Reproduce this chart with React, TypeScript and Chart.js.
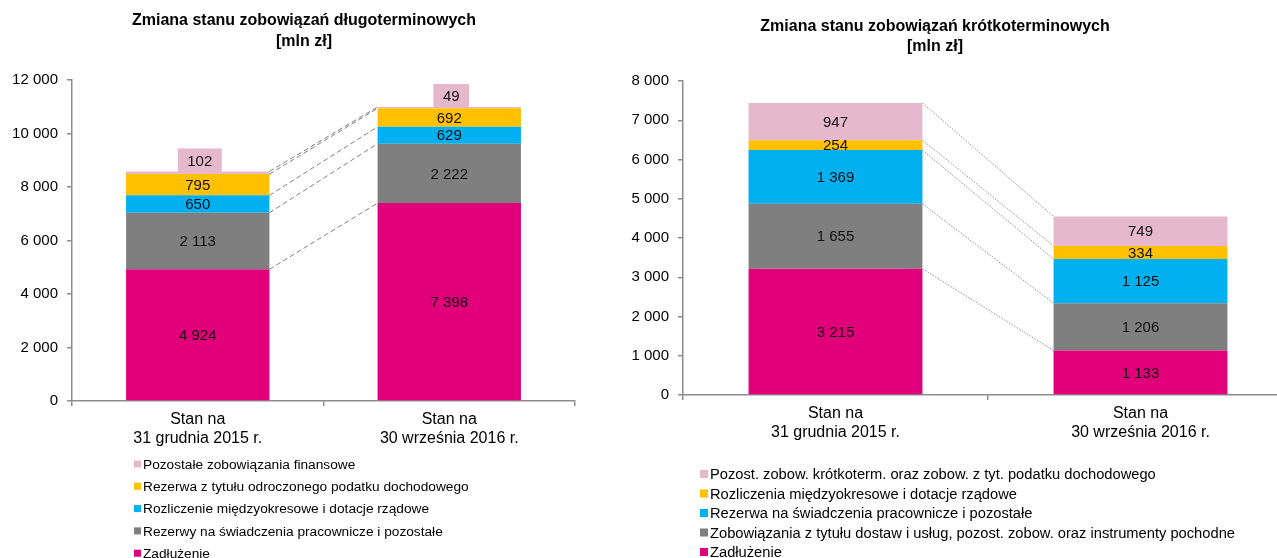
import React, { useEffect, useRef } from "react";
import { Chart, registerables } from "chart.js";

Chart.register(...registerables);

// ---------- data ----------
const categories = [
  ["Stan na", "31 grudnia 2015 r."],
  ["Stan na", "30 września 2016 r."],
];

const longTitle = ["Zmiana stanu zobowiązań długoterminowych", "[mln zł]"];
const longSeriesNames = [
  "Zadłużenie",
  "Rezerwy na świadczenia pracownicze i pozostałe",
  "Rozliczenie międzyokresowe i dotacje rządowe",
  "Rezerwa z tytułu odroczonego podatku dochodowego",
  "Pozostałe zobowiązania finansowe",
];
const longDebt = [4924, 7398];
const longEmployee = [2113, 2222];
const longAccruals = [650, 629];
const longDeferredTax = [795, 692];
const longOtherFinancial = [102, 49];
const longAxisMax = 12000;
const longAxisStep = 2000;

const shortTitle = ["Zmiana stanu zobowiązań krótkoterminowych", "[mln zł]"];
const shortSeriesNames = [
  "Zadłużenie",
  "Zobowiązania z tytułu dostaw i usług, pozost. zobow. oraz instrumenty pochodne",
  "Rezerwa na świadczenia pracownicze i pozostałe",
  "Rozliczenia międzyokresowe i dotacje rządowe",
  "Pozost. zobow. krótkoterm. oraz zobow. z tyt. podatku dochodowego",
];
const shortDebt = [3215, 1133];
const shortTrade = [1655, 1206];
const shortEmployee = [1369, 1125];
const shortAccruals = [254, 334];
const shortOther = [947, 749];
const shortAxisMax = 8000;
const shortAxisStep = 1000;

const seriesColors = ["#E2007A", "#7F7F7F", "#00B0F0", "#FFC000", "#E6B8CB"];

// ---------- helpers ----------
const FONT = "'Liberation Sans', Arial, sans-serif";
const fmt = (v: number) => String(Math.round(v)).replace(/\B(?=(\d{3})+(?!\d))/g, " ");

const decoPlugin = {
  id: "deco",
  afterDatasetsDraw(chart: any, _args: any, opts: any) {
    const ctx = chart.ctx;
    const n = chart.data.datasets.length;
    // connector lines
    ctx.save();
    ctx.strokeStyle = opts.lineColor;
    ctx.lineWidth = opts.lineWidth;
    ctx.setLineDash(opts.dash);
    for (let i = 0; i < n; i++) {
      const meta = chart.getDatasetMeta(i);
      const a = meta.data[0].getProps(["x", "y", "width"], true);
      const b = meta.data[1].getProps(["x", "y", "width"], true);
      ctx.beginPath();
      ctx.moveTo(a.x + a.width / 2, a.y);
      ctx.lineTo(b.x - b.width / 2, b.y);
      ctx.stroke();
    }
    ctx.restore();

    // value labels
    ctx.save();
    ctx.font = `15px ${FONT}`;
    ctx.textAlign = "center";
    ctx.textBaseline = "middle";
    for (let i = 0; i < n; i++) {
      const ds = chart.data.datasets[i];
      const meta = chart.getDatasetMeta(i);
      meta.data.forEach((el: any, j: number) => {
        const p = el.getProps(["x", "y", "base"], true);
        const txt = fmt(ds.data[j]);
        if (opts.aboveIndex === i) {
          const w = ctx.measureText(txt).width + 19;
          const h = 24;
          const bottom = p.y + 1;
          ctx.fillStyle = ds.backgroundColor;
          ctx.fillRect(p.x + 2 - w / 2, bottom - h, w, h);
          ctx.fillStyle = "#111";
          ctx.fillText(txt, p.x + 2, bottom - h / 2 + 1);
        } else {
          ctx.fillStyle = "#111";
          ctx.fillText(txt, p.x, (p.y + p.base) / 2 + 1);
        }
      });
    }
    ctx.restore();
  },
  afterDraw(chart: any, _args: any, opts: any) {
    const ctx = chart.ctx;
    ctx.save();
    // title
    ctx.fillStyle = "#000";
    ctx.font = `bold 16px ${FONT}`;
    ctx.textAlign = "center";
    ctx.textBaseline = "middle";
    opts.title.forEach((line: string, k: number) => {
      ctx.fillText(line, opts.titleX, opts.titleY + k * opts.titleGap);
    });
    // legend (reverse order)
    ctx.font = `${opts.legendFont}px ${FONT}`;
    ctx.textAlign = "left";
    const ds = chart.data.datasets;
    let row = 0;
    for (let i = ds.length - 1; i >= 0; i--) {
      const y = opts.legendY + row * opts.legendGap;
      ctx.fillStyle = ds[i].backgroundColor;
      ctx.fillRect(opts.legendX, y - opts.box / 2, opts.box, opts.box);
      ctx.fillStyle = "#000";
      ctx.fillText(ds[i].label, opts.legendX + opts.box + 2, y + 1);
      row++;
    }
    ctx.restore();
  },
};

type Cfg = {
  names: string[];
  series: number[][];
  max: number;
  step: number;
  width: number;
  height: number;
  yWidth: number;
  padRight: number;
  padTop: number;
  padBottom: number;
  xHeight: number;
  deco: any;
};

function StackChart({ cfg, left }: { cfg: Cfg; left: number }) {
  const ref = useRef<HTMLCanvasElement | null>(null);
  useEffect(() => {
    if (!ref.current) return;
    const axisColor = "#8C8C8C";
    const chart = new Chart(ref.current, {
      type: "bar",
      data: {
        labels: categories,
        datasets: cfg.series.map((s, i) => ({
          label: cfg.names[i],
          data: s,
          backgroundColor: seriesColors[i],
          borderWidth: 0,
          categoryPercentage: 1,
          barPercentage: 0.57,
        })),
      },
      options: {
        responsive: false,
        animation: false,
        events: [],
        layout: {
          padding: { left: 0, right: cfg.padRight, top: cfg.padTop, bottom: cfg.padBottom },
        },
        plugins: {
          legend: { display: false },
          title: { display: false },
          tooltip: { enabled: false },
          deco: cfg.deco,
        } as any,
        scales: {
          x: {
            stacked: true,
            grid: {
              display: true,
              offset: true,
              drawOnChartArea: false,
              drawTicks: true,
              tickLength: 5,
              color: axisColor,
              lineWidth: 1.5,
            },
            border: { display: true, color: axisColor, width: 1.5 },
            ticks: {
              color: "#000",
              font: { family: FONT, size: 16 },
              padding: 4,
              maxRotation: 0,
              autoSkip: false,
            },
            afterFit: (s: any) => {
              s.height = cfg.xHeight;
            },
          },
          y: {
            stacked: true,
            min: 0,
            max: cfg.max,
            grid: {
              display: true,
              drawOnChartArea: false,
              drawTicks: true,
              tickLength: 5,
              color: axisColor,
              lineWidth: 1.5,
            },
            border: { display: true, color: axisColor, width: 1.5 },
            ticks: {
              stepSize: cfg.step,
              color: "#000",
              font: { family: FONT, size: 15 },
              padding: 9,
              callback: (v: any) => fmt(Number(v)),
            },
            afterFit: (s: any) => {
              s.width = cfg.yWidth;
            },
          },
        },
      },
      plugins: [decoPlugin as any],
    });
    return () => chart.destroy();
  }, []);
  return (
    <canvas
      ref={ref}
      width={cfg.width}
      height={cfg.height}
      style={{ position: "absolute", left, top: 0, width: cfg.width, height: cfg.height, display: "block" }}
    />
  );
}

const longCfg: Cfg = {
  names: longSeriesNames,
  series: [longDebt, longEmployee, longAccruals, longDeferredTax, longOtherFinancial],
  max: longAxisMax,
  step: longAxisStep,
  width: 600,
  height: 558,
  yWidth: 72,
  padRight: 25,
  padTop: 80,
  padBottom: 97,
  xHeight: 60,
  deco: {
    lineColor: "#7F7F7F",
    lineWidth: 1,
    dash: [5, 3],
    aboveIndex: 4,
    title: longTitle,
    titleX: 304,
    titleY: 21,
    titleGap: 21,
    legendX: 134,
    legendY: 464,
    legendGap: 22.3,
    legendFont: 13.7,
    box: 7,
  },
};

const shortCfg: Cfg = {
  names: shortSeriesNames,
  series: [shortDebt, shortTrade, shortEmployee, shortAccruals, shortOther],
  max: shortAxisMax,
  step: shortAxisStep,
  width: 720,
  height: 558,
  yWidth: 83,
  padRight: 27,
  padTop: 81,
  padBottom: 103,
  xHeight: 60,
  deco: {
    lineColor: "#8C8C8C",
    lineWidth: 1,
    dash: [1.5, 1.5],
    aboveIndex: -1,
    title: shortTitle,
    titleX: 335,
    titleY: 27,
    titleGap: 20,
    legendX: 100,
    legendY: 474,
    legendGap: 19.5,
    legendFont: 14.7,
    box: 8,
  },
};

export default function App() {
  return (
    <div
      style={{
        position: "fixed",
        left: 0,
        top: 0,
        width: 1277,
        height: 558,
        overflow: "hidden",
        background: "#fff",
      }}
    >
      <StackChart cfg={longCfg} left={0} />
      <StackChart cfg={shortCfg} left={600} />
    </div>
  );
}
